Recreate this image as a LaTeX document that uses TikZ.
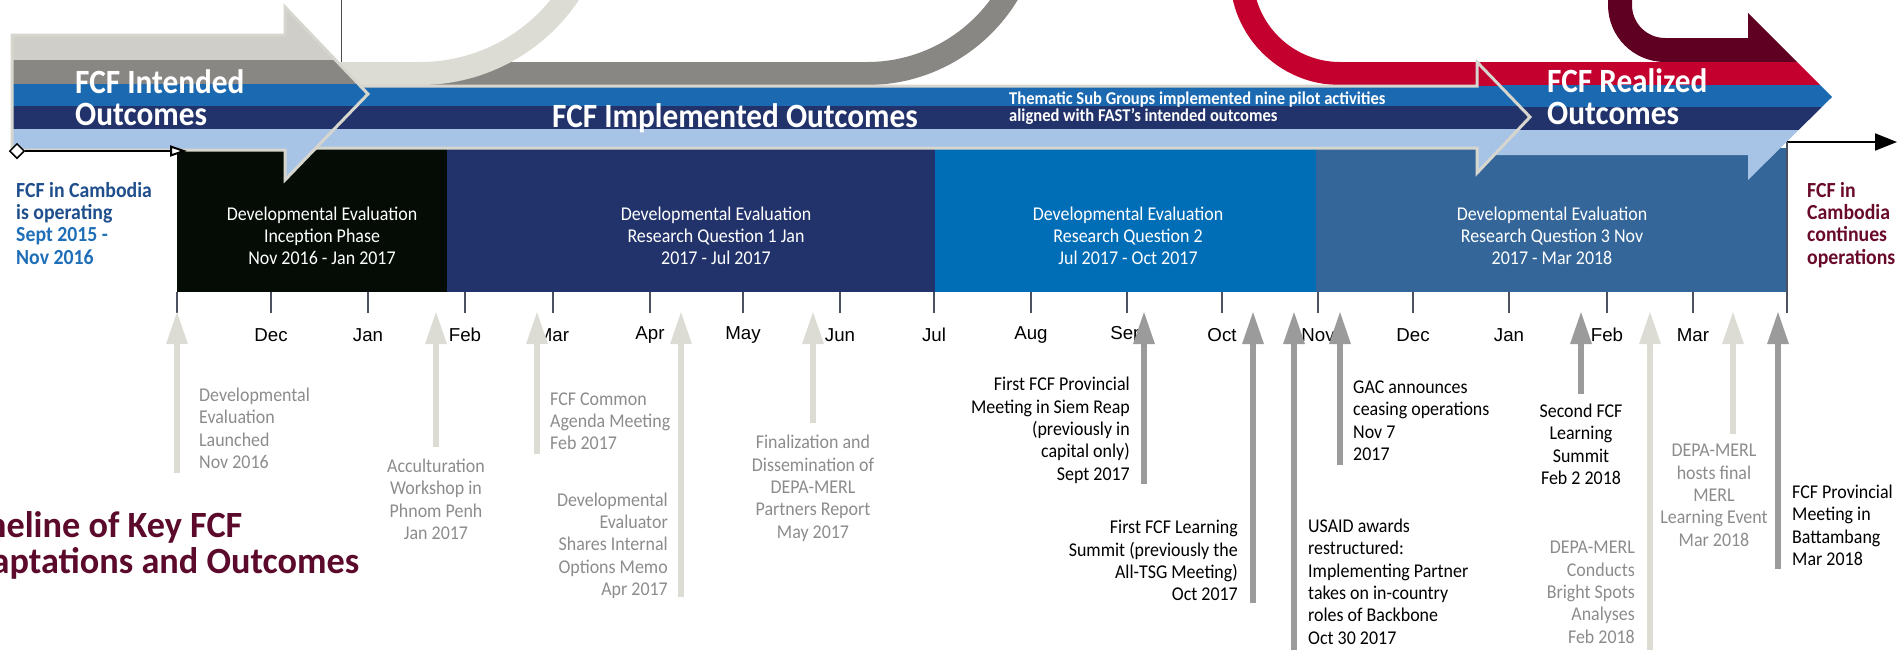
\documentclass[tikz,border=0pt]{standalone}
\usepackage{fontspec}
\setmainfont{Carlito}[FakeStretch=0.92]
\newfontfamily\titlef{Carlito}[FakeStretch=0.98]
\newfontfamily\arialf{Liberation Sans}
\usetikzlibrary{arrows.meta,shapes.geometric}
\lineskiplimit=-100pt
\definecolor{cLG}{HTML}{DCDCD5}
\definecolor{cLGb}{HTML}{CFCEC8}
\definecolor{cGR}{HTML}{898783}
\definecolor{cBL}{HTML}{1A69B1}
\definecolor{cNV}{HTML}{22336B}
\definecolor{cLB}{HTML}{A7C3E6}
\definecolor{cRD}{HTML}{C4002F}
\definecolor{cMR}{HTML}{5F0022}
\definecolor{cOL}{HTML}{D6D6CE}
\definecolor{cBa}{HTML}{040C05}
\definecolor{cBc}{HTML}{006DB7}
\definecolor{cBd}{HTML}{346699}
\definecolor{cTick}{HTML}{4B5160}
\definecolor{cAL}{HTML}{DCDCD5}
\definecolor{cAD}{HTML}{9B9B9B}
\definecolor{cTG}{HTML}{8C8C8C}
\definecolor{cDB}{HTML}{1F4E8C}
\definecolor{cBB}{HTML}{1F6FB8}
\definecolor{cMT}{HTML}{6A0A2B}
\definecolor{cTT}{HTML}{5C0A2C}
\begin{document}
\begin{tikzpicture}[x=1pt,y=-1pt,
  evt/.style={inner sep=0pt, font={\fontsize{19.5}{22.3}\selectfont\lineskiplimit=-100pt},
    execute at begin node=\strut, execute at end node=\strut},
  evg/.style={evt, text=cTG},
  evk/.style={evt, text=black},
  boxtext/.style={evt, text=white, align=center},
  hdr/.style={inner sep=0pt, text=white, font={\fontsize{34}{32.5}\selectfont\bfseries\lineskiplimit=-100pt},
    align=left, execute at begin node=\strut, execute at end node=\strut},
  outl/.style={draw=cOL, line width=3pt, line join=miter},
  tickline/.style={draw=cTick, line width=2pt},
  mlabel/.style={inner sep=0pt, font=\arialf\fontsize{18.7}{22}\selectfont},
  evlight/.style={draw=cAL, line width=6pt, -{Triangle[length=33pt,width=20pt]}},
  evdark/.style={draw=cAD, line width=6pt, -{Triangle[length=33pt,width=20pt]}},
  side/.style={inner sep=0pt, font={\fontsize{21.5}{22.3}\selectfont\bfseries\lineskiplimit=-100pt},
    align=left, anchor=west, execute at begin node=\strut, execute at end node=\strut},
  phasebox/.style={inner sep=0pt, anchor=north west, minimum height=144pt},
]
\useasboundingbox (0,0) rectangle (1899,649);
\clip (0,0) rectangle (1899,649);

% ---------- phase boxes ----------
\node[phasebox, fill=cBa, minimum width=270pt] (b1) at (177,148) {};
\node[phasebox, fill=cNV, minimum width=488pt] (b2) at (447,148) {};
\node[phasebox, fill=cBc, minimum width=381pt] (b3) at (935,148) {};
\node[phasebox, fill=cBd, minimum width=471pt] (b4) at (1316,148) {};
\node[boxtext] (t1) at (322,239) {Developmental Evaluation\\Inception Phase\\Nov 2016 - Jan 2017};
\node[boxtext] (t2) at (716,239) {Developmental Evaluation\\Research Question 1 Jan\\2017 - Jul 2017};
\node[boxtext] (t3) at (1128,239) {Developmental Evaluation\\Research Question 2\\Jul 2017 - Oct 2017};
\node[boxtext] (t4) at (1552,239) {Developmental Evaluation\\Research Question 3 Nov\\2017 - Mar 2018};

% ---------- ribbons ----------
\fill[cGR] (330,62) -- (867,62) arc[start angle=90,end angle=0,radius=153] -- ++(23,0)
  arc[start angle=0,end angle=90,radius=176] -- (330,85) -- cycle;
\fill[cLG] (330,62) -- (420,62) arc[start angle=90,end angle=0,radius=168] -- ++(23,0)
  arc[start angle=0,end angle=90,radius=191] -- (330,85) -- cycle;
\fill[cRD] (1490,62) -- (1340,62) arc[start angle=90,end angle=180,radius=87] -- ++(-23,0)
  arc[start angle=180,end angle=90,radius=110] -- (1490,85) -- cycle;
\fill[cMR] (1750,38) -- (1665,38) arc[start angle=90,end angle=180,radius=33] -- (1632,-5)
  -- (1608,-5) -- (1608,5) arc[start angle=180,end angle=90,radius=57] -- (1750,62) -- cycle;

% ---------- realized arrow ----------
\begin{scope}
\clip (1477,62) -- (1748,62) -- (1748,13) -- (1832,97) -- (1748,180) -- (1748,155) -- (1477,155) -- cycle;
\fill[cMR] (1470,0) rectangle (1840,62);
\fill[cRD] (1470,62) rectangle (1840,85);
\fill[cBL] (1470,85) rectangle (1840,107);
\fill[cNV] (1470,107) rectangle (1840,130);
\fill[cLB] (1470,130) rectangle (1840,190);
\end{scope}

% ---------- implemented arrow ----------
\begin{scope}
\clip (300,86) -- (1477,86) -- (1477,62) -- (1530,117) -- (1477,173) -- (1477,148) -- (300,148) -- cycle;
\fill[cRD] (290,50) rectangle (1540,86);
\fill[cBL] (290,86) rectangle (1540,106);
\fill[cNV] (290,106) rectangle (1540,129);
\fill[cLB] (290,129) rectangle (1540,180);
\end{scope}
\draw[outl] (300,86) -- (1477,86) -- (1477,62) -- (1530,117) -- (1477,173) -- (1477,148) -- (300,148) -- cycle;

% ---------- intended arrow ----------
\begin{scope}
\clip (12,35) -- (285,35) -- (285,7) -- (368,94) -- (285,180) -- (285,150) -- (12,150) -- cycle;
\fill[cLGb] (0,0) rectangle (380,60);
\fill[cGR] (0,60) rectangle (380,84);
\fill[cBL] (0,84) rectangle (380,106);
\fill[cNV] (0,106) rectangle (380,129);
\fill[cLB] (0,129) rectangle (380,190);
\end{scope}
\draw[outl] (12,35) -- (285,35) -- (285,7) -- (368,94) -- (285,180) -- (285,150) -- (12,150) -- cycle;

\draw[line width=1pt, draw=black!70] (341,0) -- (341,62);

% ---------- header texts ----------
\node[hdr, anchor=west] (h1) at (75,102.25) {FCF Intended\\Outcomes};
\node[hdr, anchor=base west] (h2) at (552,127) {FCF Implemented Outcomes};
\node[hdr, anchor=west] (h3) at (1547,101.5) {FCF Realized\\Outcomes};
\node[inner sep=0pt, text=white, font={\fontsize{18}{16.5}\selectfont\bfseries\lineskiplimit=-100pt},
  align=left, anchor=west] (h4) at (1009,108) {Thematic Sub Groups implemented nine pilot activities\\aligned with FAST's intended outcomes};

% ---------- axis ----------
\node[diamond, draw=black, fill=white, line width=1.5pt, inner sep=0pt, minimum width=15pt, minimum height=15pt] (dia) at (17,151) {};
\coordinate (ax1) at (187,151);
\draw[line width=2pt, -{Triangle[length=17pt,width=11pt,fill=white]}] (dia) -- (ax1);
\coordinate (ax2s) at (1787,142);
\coordinate (ax2e) at (1897,142);
\draw[line width=2pt, -{Triangle[length=22pt,width=17pt]}] (ax2s) -- (ax2e);
\draw[draw=cTick, line width=1.2pt] (1787,142) -- (1787,292);

\foreach \x in {177,271,368,465,553,650,743,840,934,1031,1127,1222,1318,1413,1509,1607,1693,1787}
  \draw[tickline] (\x,292) -- (\x,313);
\foreach \x/\m [count=\i] in {271/Dec,368/Jan,465/Feb,553/Mar,650/Apr,743/May,840/Jun,934/Jul,1031/Aug,1127/Sep,1222/Oct,1318/Nov,1413/Dec,1509/Jan,1607/Feb,1693/Mar}
  \node[mlabel] (m\i) at (\x,335) {\m};

% ---------- event arrows ----------
\foreach \x/\yb/\st [count=\i] in {177/473/evlight,436/447/evlight,537/454/evlight,681/597/evlight,813/423/evlight,1144/484/evdark,1253/603/evdark,1294/660/evdark,1340/465/evdark,1581/394/evdark,1650/660/evlight,1733/434/evlight,1778/569/evdark}
{
  \coordinate (eb\i) at (\x,\yb);
  \coordinate (et\i) at (\x,311);
  \draw[\st] (eb\i) -- (et\i);
}

% ---------- event texts ----------
\node[evg, align=left, anchor=west] (e1) at (199,431.5) {Developmental\\Evaluation\\Launched\\Nov 2016};
\node[evg, align=center] (e2) at (436,502.5) {Acculturation\\Workshop in\\Phnom Penh\\Jan 2017};
\node[evg, align=left, anchor=west] (e3) at (550,424.5) {FCF Common\\Agenda Meeting\\Feb 2017};
\node[evg, align=right, anchor=east] (e4) at (668,547.5) {Developmental\\Evaluator\\Shares Internal\\Options Memo\\Apr 2017};
\node[evg, align=center] (e5) at (813,490) {Finalization and\\Dissemination of\\DEPA-MERL\\Partners Report\\May 2017};
\node[evk, align=right, anchor=east] (e6) at (1130,432) {First FCF Provincial\\Meeting in Siem Reap\\(previously in\\capital only)\\Sept 2017};
\node[evk, align=right, anchor=east] (e7) at (1238,564) {First FCF Learning\\Summit (previously the\\All-TSG Meeting)\\Oct 2017};
\node[evk, align=left, anchor=west] (e8) at (1308,585) {USAID awards\\restructured:\\Implementing Partner\\takes on in-country\\roles of Backbone\\Oct 30 2017};
\node[evk, align=left, anchor=west] (e9) at (1353,424) {GAC announces\\ceasing operations\\Nov 7\\2017};
\node[evk, align=center] (e10) at (1581,447.5) {Second FCF\\Learning\\Summit\\Feb 2 2018};
\node[evg, align=right, anchor=east] (e11) at (1635,595.5) {DEPA-MERL\\Conducts\\Bright Spots\\Analyses\\Feb 2018};
\node[evg, align=center] (e12) at (1714,498.5) {DEPA-MERL\\hosts final\\MERL\\Learning Event\\Mar 2018};
\node[evk, align=left, anchor=west] (e13) at (1792,528.5) {FCF Provincial\\Meeting in\\Battambang\\Mar 2018};

% ---------- side texts and title ----------
\node[side, text=cDB] (lt) at (16,226.5) {FCF in Cambodia\\is operating\\\textcolor{cBB}{Sept 2015 -}\\\textcolor{cBB}{Nov 2016}};
\node[side, text=cMT] (rt) at (1807,226.5) {FCF in\\Cambodia\\continues\\operations};
\node[inner sep=0pt, text=cTT, font={\titlef\fontsize{37}{36}\selectfont\bfseries\lineskiplimit=-100pt}, align=left, anchor=west,
  execute at begin node=\strut, execute at end node=\strut] (title) at (-50,547.5) {Timeline of Key FCF\\Adaptations and Outcomes};
\end{tikzpicture}
\end{document}
